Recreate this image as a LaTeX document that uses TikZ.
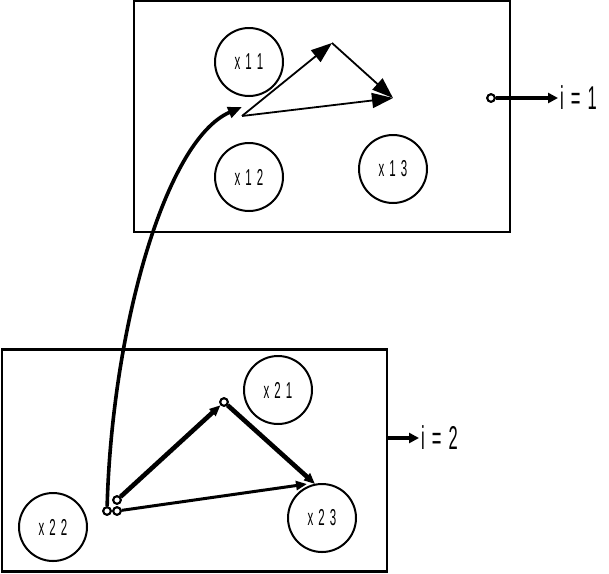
\documentclass[tikz,border=0pt]{standalone}
\usepackage{fontspec}
\newfontfamily\narrowfont[FakeStretch=0.5]{Liberation Sans}
\usetikzlibrary{arrows.meta}

\begin{document}
\begin{tikzpicture}[x=1pt,y=-1pt,
    frame/.style={draw,line width=2.3pt,inner sep=0pt},
    state/.style={draw,circle,line width=2pt,minimum size=68pt,inner sep=0pt,
        font=\narrowfont\fontsize{23}{23}\selectfont},
    dot/.style={draw,circle,fill=white,line width=2pt,inner sep=0pt,minimum size=7.5pt},
    level/.style={font=\narrowfont\fontsize{33}{33}\selectfont,anchor=west,inner sep=2pt},
    bighead/.style={-{Triangle[length=21pt,width=15pt]},line width=1.8pt},
    smallhead/.style={-{Triangle[length=11pt,width=9pt]}},
    outarrow/.style={-{Triangle[length=10pt,width=10pt]},line width=3.4pt}]

    \useasboundingbox (0,0) rectangle (609,573);

    % Frames
    \node[frame,minimum width=376pt,minimum height=231pt] (top) at (322,116.5) {};
    \node[frame,minimum width=385pt,minimum height=222pt] (low) at (194.5,460.5) {};

    % States i = 1
    \node[state] (x11) at (249,62) {x\hspace{5pt}1\hspace{5pt}1};
    \node[state] (x12) at (249,177) {x\hspace{5pt}1\hspace{5pt}2};
    \node[state] (x13) at (393,169) {x\hspace{5pt}1\hspace{5pt}3};

    % States i = 2
    \node[state] (x21) at (278,390) {x\hspace{5pt}2\hspace{5pt}1};
    \node[state] (x22) at (53,527) {x\hspace{5pt}2\hspace{5pt}2};
    \node[state] (x23) at (322,518) {x\hspace{5pt}2\hspace{5pt}3};

    % Path points
    \coordinate (a1) at (242,116);
    \coordinate (a2) at (332,43);
    \coordinate (a3) at (393,98);
    \coordinate (c1) at (242,107);
    \coordinate (e1) at (315,484);
    \coordinate (e2) at (307,484);
    \coordinate (o2) at (387,438);

    % Small circles
    \node[dot] (b0) at (107,511) {};
    \node[dot] (b1) at (117,500) {};
    \node[dot] (b2) at (117,511) {};
    \node[dot] (b3) at (224,402) {};
    \node[dot] (d1) at (491,98) {};

    % Top triangle
    \draw[bighead] (a1) -- (a2);
    \draw[bighead] (a2) -- (a3);
    \draw[bighead] (a1) -- (a3);

    % Lower triangle
    \draw[smallhead,line width=4.6pt] (b1) -- (b3);
    \draw[smallhead,line width=4.6pt] (b3) -- (e1);
    \draw[smallhead,line width=3pt] (b2) -- (e2);

    % Link between levels
    \draw[-{Triangle[length=14pt,width=11pt]},line width=3.6pt]
        (b0) .. controls (112,330) and (165,140) .. (c1);

    % Labels
    \node[level] (i1) at (558,98) {i\hspace{7pt}=\hspace{7pt}1};
    \node[level] (i2) at (419,438) {i\hspace{7pt}=\hspace{7pt}2};
    \draw[outarrow] (d1) -- (i1.west);
    \draw[outarrow] (o2) -- (i2.west);

    % redraw small circles on top
    \foreach \p in {b0,b1,b2,b3,d1}
        \node[dot] at (\p) {};

\end{tikzpicture}
\end{document}
